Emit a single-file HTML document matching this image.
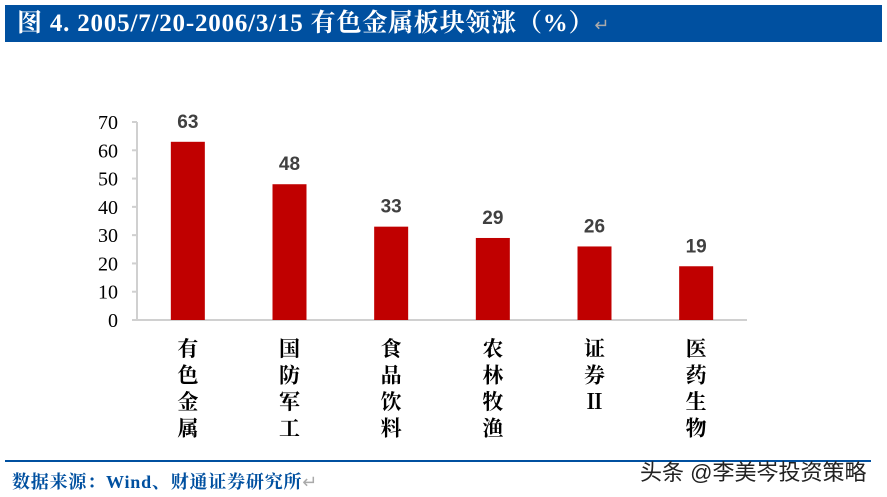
<!DOCTYPE html>
<html><head><meta charset="utf-8"><style>
body{margin:0;width:887px;height:497px;background:#fff;overflow:hidden;font-family:"Liberation Serif","Noto Serif CJK SC",serif;}
#title{position:absolute;left:5px;top:5px;width:877px;height:37px;background:#0050a0;color:#fff;font-size:25px;line-height:37px;font-weight:bold;padding-left:12px;box-sizing:border-box;white-space:nowrap;letter-spacing:0.8px}
#title span{color:#aaa;font-weight:normal;font-size:18px}
#line{position:absolute;left:5px;top:460px;width:866px;height:2px;background:#0050a0}
#src{position:absolute;left:12px;top:468px;font-size:18px;color:#0050a0;font-weight:bold;white-space:nowrap;letter-spacing:0.8px}
#wm{position:absolute;left:640px;top:455px;font-size:22px;color:#222;font-family:"Liberation Sans","Noto Sans CJK SC",sans-serif;white-space:nowrap}
</style></head><body>
<div id="title">图 4. 2005/7/20-2006/3/15 有色金属板块领涨（%）<span>↵</span></div>
<svg id="chart" width="887" height="497" style="position:absolute;left:0;top:0"></svg>
<div id="line"></div>
<div id="src">数据来源：Wind、财通证券研究所<span style="color:#aaa;font-weight:normal">↵</span></div>
<div id="wm">头条 @李美岑投资策略</div>
<script>
const categories=["有色金属","国防军工","食品饮料","农林牧渔","证券II","医药生物"];
const values=[63,48,33,29,26,19];
const yTicks=[0,10,20,30,40,50,60,70];
const svg=document.getElementById('chart');
const NS="http://www.w3.org/2000/svg";
const x0=137,x1=747,yB=320,yT=122,yMax=70;
const y=v=>yB-(v/yMax)*(yB-yT);
const band=(x1-x0)/categories.length;
const xc=i=>x0+band*(i+0.5);
function mk(t,a){const e=document.createElementNS(NS,t);for(const k in a)e.setAttribute(k,a[k]);svg.appendChild(e);return e;}
const ax=mk('path',{d:`M${x0} ${yT}V${yB}H${x1}`,stroke:'#d0d0d0','stroke-width':2,fill:'none'});


yTicks.forEach(t=>{
 const tk=mk('line',{x1:x0-5,x2:x0,y1:y(t),y2:y(t),stroke:'#d0d0d0','stroke-width':2});
 
 
 const tx=mk('text',{x:118,y:y(t)+7,'text-anchor':'end','font-size':20,fill:'#000','font-family':'Liberation Serif,serif'});
 tx.textContent=t;
 
 
});
values.forEach((v,i)=>{
 const r=mk('rect',{x:xc(i)-17,y:y(v),width:34,height:yB-y(v),fill:'#c00000'});
 
 
 const l=mk('text',{x:xc(i),y:y(v)-14,'text-anchor':'middle','font-size':19,'font-weight':'bold',fill:'#404040','font-family':'Liberation Sans,sans-serif'});
 l.textContent=v;
 
 
 const chars=categories[i].replace('II','Ⅱ').split('');
 const g=mk('text',{'text-anchor':'middle','font-size':21,'font-weight':'bold',fill:'#000','font-family':'Liberation Serif,Noto Serif CJK SC,serif'});
 
 
 chars.forEach((c,j)=>{const s=document.createElementNS(NS,'tspan');s.setAttribute('x',xc(i));s.setAttribute('y',356+j*26.5);s.textContent=c;g.appendChild(s);});
});
</script>
</body></html>
